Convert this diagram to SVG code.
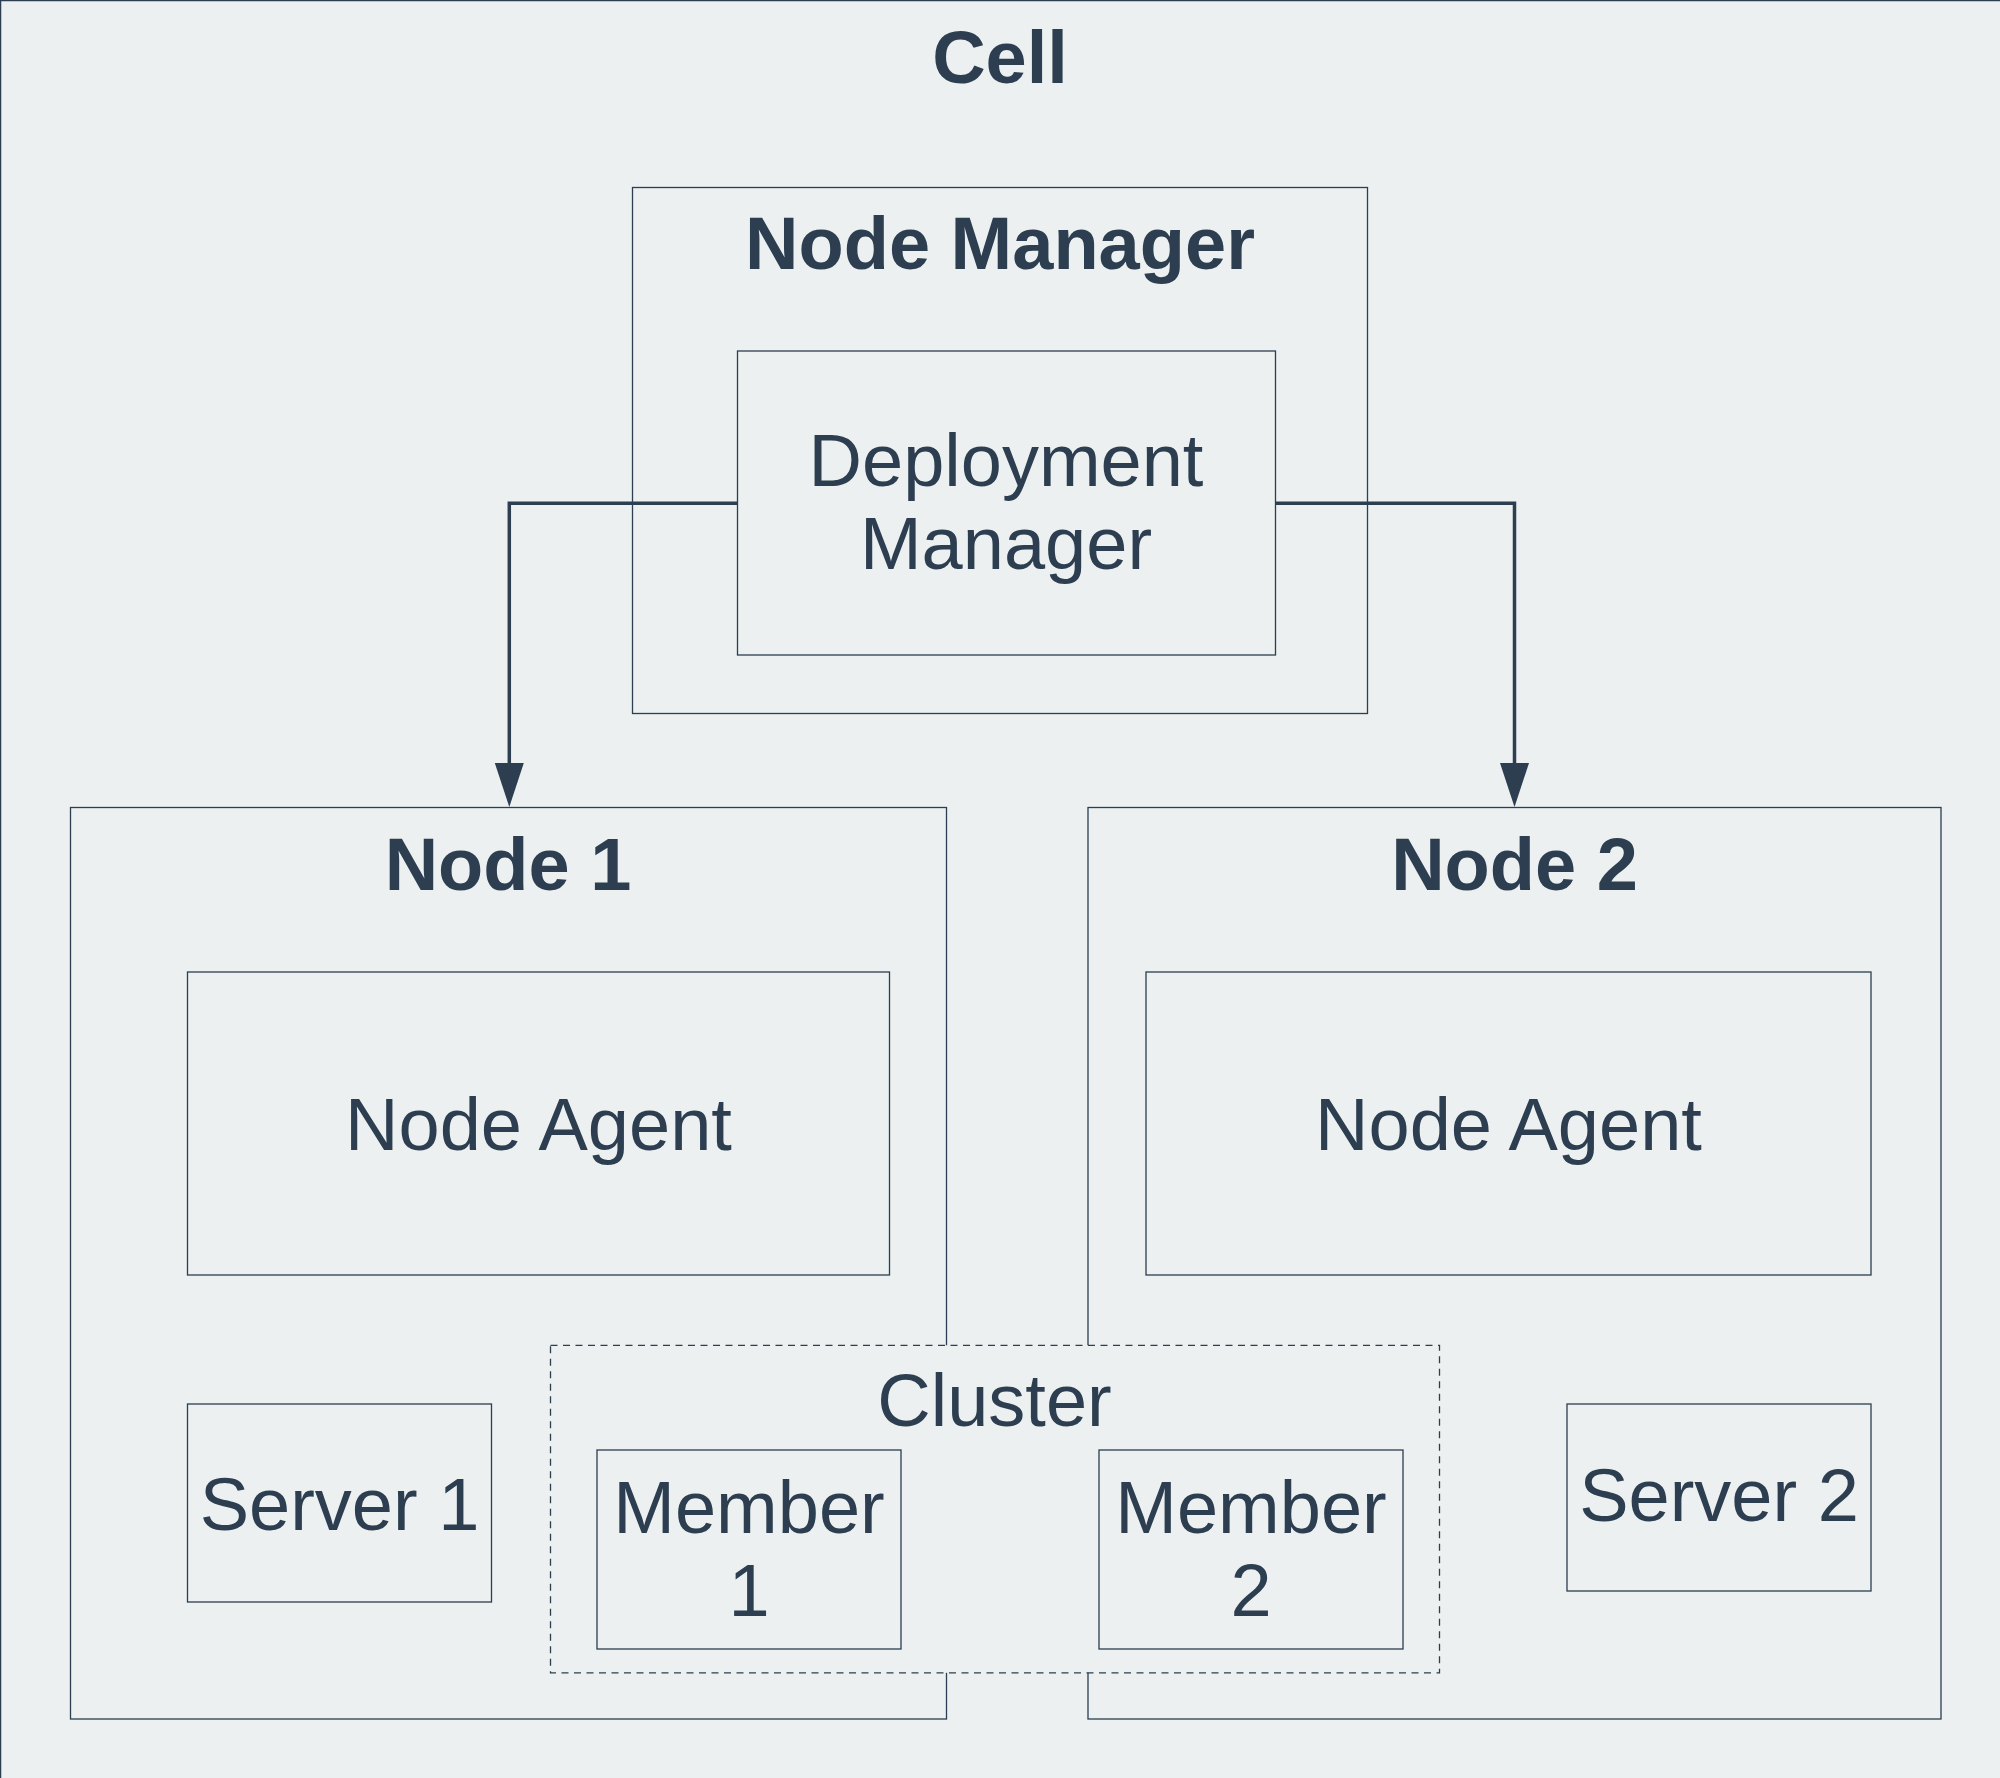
<svg xmlns="http://www.w3.org/2000/svg" width="2000" height="1778" viewBox="0 0 2000 1778">
<defs>
<style>
.box{fill:#ecf0f1;stroke:#2c3e50;stroke-width:1.3}
.dash{fill:#ecf0f1;stroke:#2c3e50;stroke-width:1.3;stroke-dasharray:7 5.5}
.t{font-family:"Liberation Sans",Arial,sans-serif;font-size:74px;fill:#2c3e50;text-anchor:middle}
.b{font-weight:bold}
.conn{fill:none;stroke:#2c3e50;stroke-width:3.5}
</style>
<marker id="arrow" markerUnits="userSpaceOnUse" markerWidth="44" markerHeight="30" viewBox="0 0 44 30" refX="0" refY="15" orient="auto">
<path d="M0,0.5 L44,15 L0,29.5 Z" fill="#2c3e50"/>
</marker>
</defs>
<g id="cell">
<rect x="0" y="0" width="2000" height="1778" fill="#ecf0f1"/>
<rect x="0.6" y="0.6" width="2010" height="1790" fill="none" stroke="#2c3e50" stroke-width="1.3"/>
<text class="t b" x="1000" y="83">Cell</text>
</g>
<g id="node-manager">
<rect class="box" x="632.5" y="187.5" width="735" height="526"/>
<text class="t b" x="1000" y="269">Node Manager</text>
</g>
<g id="deployment-manager">
<rect class="box" x="737.5" y="351" width="538" height="304"/>
<text class="t" x="1006" y="486">Deployment</text>
<text class="t" x="1006" y="568.5">Manager</text>
</g>
<g id="node1">
<rect class="box" x="70.5" y="807.5" width="876" height="911.5"/>
<text class="t b" x="508" y="890">Node 1</text>
</g>
<g id="node2">
<rect class="box" x="1088" y="807.5" width="853" height="911.5"/>
<text class="t b" x="1514.5" y="890">Node 2</text>
</g>
<g id="node-agent-1">
<rect class="box" x="187.5" y="972" width="702" height="303"/>
<text class="t" x="538.5" y="1150">Node Agent</text>
</g>
<g id="node-agent-2">
<rect class="box" x="1146" y="972" width="725" height="303"/>
<text class="t" x="1508.5" y="1150">Node Agent</text>
</g>
<g id="server1">
<rect class="box" x="187.5" y="1404" width="304" height="198"/>
<text class="t" x="339.5" y="1529.5">Server 1</text>
</g>
<g id="server2">
<rect class="box" x="1567" y="1404" width="304" height="187"/>
<text class="t" x="1719" y="1521">Server 2</text>
</g>
<g id="cluster">
<rect class="dash" x="550.5" y="1345.3" width="889" height="327.5"/>
<text class="t" x="994.5" y="1425.5">Cluster</text>
</g>
<g id="member1">
<rect class="box" x="597" y="1450" width="304" height="199"/>
<text class="t" x="749" y="1532.7">Member</text>
<text class="t" x="749" y="1615.8">1</text>
</g>
<g id="member2">
<rect class="box" x="1099" y="1450" width="304" height="199"/>
<text class="t" x="1251" y="1532.7">Member</text>
<text class="t" x="1251" y="1615.8">2</text>
</g>
<g id="connectors">
<path class="conn" d="M737.5,503.3 H509.3 V763" marker-end="url(#arrow)"/>
<path class="conn" d="M1275.5,503.3 H1514.5 V763" marker-end="url(#arrow)"/>
</g>
</svg>
